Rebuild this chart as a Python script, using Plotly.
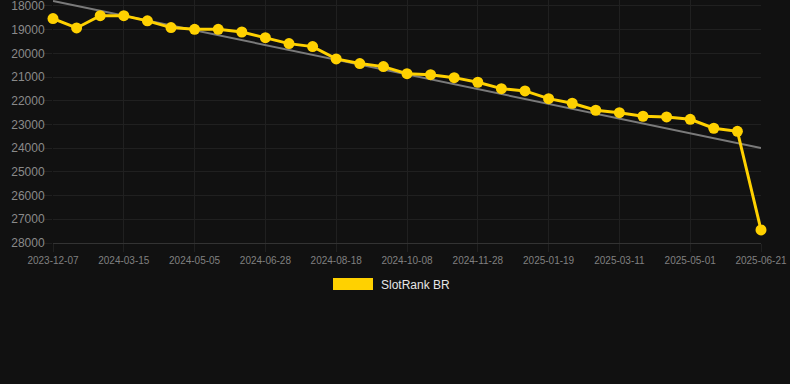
import plotly.graph_objects as go

dates = [
    "2023-12-07", "2024-01-10", "2024-02-12", "2024-03-15", "2024-04-01",
    "2024-04-18", "2024-05-05", "2024-05-23", "2024-06-10", "2024-06-28",
    "2024-07-15", "2024-08-01", "2024-08-18", "2024-09-04", "2024-09-21",
    "2024-10-08", "2024-10-25", "2024-11-11", "2024-11-28", "2024-12-15",
    "2025-01-01", "2025-01-19", "2025-02-05", "2025-02-22", "2025-03-11",
    "2025-03-28", "2025-04-14", "2025-05-01", "2025-05-18", "2025-06-04",
    "2025-06-21",
]
rank = [
    18535, 18930, 18410, 18410, 18630, 18915, 18985, 18985, 19100, 19340,
    19590, 19715, 20235, 20430, 20560, 20857, 20899, 21025, 21219, 21489,
    21586, 21911, 22105, 22401, 22502, 22654, 22684, 22781, 23160, 23287,
    27451,
]
tick_labels = [
    "2023-12-07", "2024-03-15", "2024-05-05", "2024-06-28", "2024-08-18",
    "2024-10-08", "2024-11-28", "2025-01-19", "2025-03-11", "2025-05-01",
    "2025-06-21",
]
trend_x = ["2023-12-07", "2025-06-21"]
trend_y = [17790, 23990]
y_ticks = [18000, 19000, 20000, 21000, 22000, 23000, 24000, 25000, 26000, 27000, 28000]
series_name = "SlotRank BR"

YELLOW = "#FFD100"
BG = "#111111"
GRID = "#202020"
FONT = "Liberation Sans, Arial, sans-serif"

fig = go.Figure()
fig.add_trace(go.Scatter(
    x=trend_x, y=trend_y, mode="lines",
    line=dict(color="#7a7a7a", width=2),
    hoverinfo="skip", showlegend=False, cliponaxis=True,
))
fig.add_trace(go.Scatter(
    x=dates, y=rank, mode="lines+markers", name=series_name,
    line=dict(color=YELLOW, width=3),
    marker=dict(color=YELLOW, size=11, line=dict(width=0)),
    showlegend=False, cliponaxis=False,
))

W, H = 790, 384
ml, mr, mt, mb = 53, 29, 0, 141
pw, ph = W - ml - mr, H - mt - mb

def px_x(v):
    return (v - ml) / pw

def px_y(v):
    return (H - mb - v) / ph

fig.add_shape(type="rect", xref="paper", yref="paper",
              x0=px_x(333), x1=px_x(373), y0=px_y(290), y1=px_y(278),
              fillcolor=YELLOW, line=dict(width=0))
fig.add_annotation(xref="paper", yref="paper", x=px_x(379), y=px_y(284.5),
                   text=series_name, showarrow=False, xanchor="left", yanchor="middle",
                   font=dict(family=FONT, size=12, color="#e6e6e6"))

fig.update_layout(
    width=W, height=H,
    margin=dict(l=ml, r=mr, t=mt, b=mb, pad=0),
    paper_bgcolor=BG, plot_bgcolor=BG,
    font=dict(family=FONT, color="#888888"),
    showlegend=False,
    xaxis=dict(
        type="category", categoryorder="array", categoryarray=dates,
        range=[0, len(dates) - 1],
        tickmode="array", tickvals=tick_labels, ticktext=tick_labels,
        tickfont=dict(size=10, color="#808080"),
        showgrid=True, gridcolor=GRID, gridwidth=1,
        ticks="outside", ticklen=8, tickcolor=GRID,
        showline=True, linecolor="#333333", linewidth=1,
        zeroline=False, ticklabeloverflow="allow",
    ),
    yaxis=dict(
        range=[28000, 17750],
        tickmode="array", tickvals=y_ticks, ticktext=[str(v) for v in y_ticks],
        tickfont=dict(size=12, color="#8a8a8a"),
        showgrid=True, gridcolor=GRID, gridwidth=1,
        ticks="outside", ticklen=8, tickcolor=GRID, ticklabelstandoff=-3,
        showline=False, zeroline=False, ticklabeloverflow="allow",
    ),
)

fig.write_html(
    "out.html",
    config={"displayModeBar": False},
    post_script="document.body.style.margin='0';document.body.style.background='#111111';",
)
